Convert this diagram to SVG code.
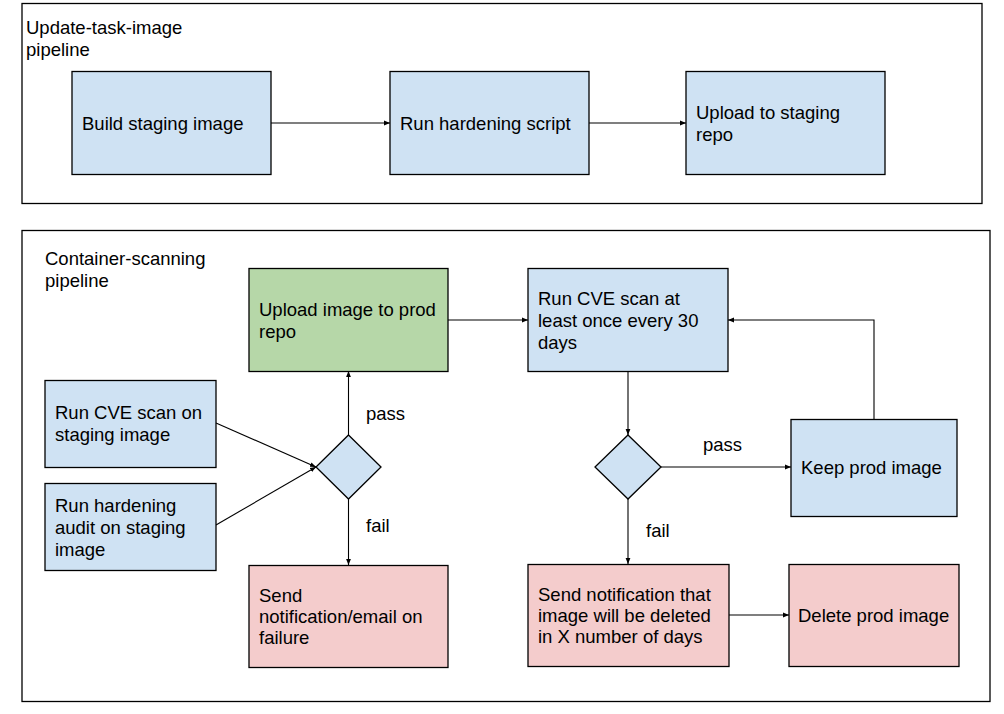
<svg xmlns="http://www.w3.org/2000/svg" width="1004" height="714" viewBox="0 0 1004 714">
<style>
text{font-family:"Liberation Sans",Arial,sans-serif;font-size:18.5px;fill:#000}
.c{fill:none;stroke:#000;stroke-width:1.3}
.b{fill:#cfe2f3;stroke:#000;stroke-width:1.3}
.g{fill:#b6d7a8;stroke:#000;stroke-width:1.3}
.r{fill:#f4cccc;stroke:#000;stroke-width:1.3}
.e{fill:none;stroke:#000;stroke-width:1.1;marker-end:url(#a)}
</style>
<defs>
<marker id="a" viewBox="0 0 10 10" refX="10" refY="5" markerWidth="6" markerHeight="6" markerUnits="userSpaceOnUse" orient="auto"><path d="M0,1 L10,5 L0,9 z" fill="#000"/></marker>
</defs>
<rect width="1004" height="714" fill="#fff"/>
<g id="container-top"><rect class="c" x="22" y="3.5" width="960" height="200"/><text x="26" y="34">Update-task-image</text><text x="26" y="56">pipeline</text></g>
<g id="container-bottom"><rect class="c" x="22" y="230.5" width="968" height="471"/><text x="45" y="265">Container-scanning</text><text x="45" y="287">pipeline</text></g>
<g id="connectors">
<path class="e" d="M271,123 H390"/>
<path class="e" d="M589,123 H686"/>
<path class="e" d="M216,423 L316,467"/>
<path class="e" d="M216,525 L316,467"/>
<path class="e" d="M348.5,435 V371"/>
<path class="e" d="M348.5,499 V565"/>
<path class="e" d="M448,320 H528"/>
<path class="e" d="M628,371 V435"/>
<path class="e" d="M661,467 H791"/>
<path class="e" d="M874,419 V320 H728"/>
<path class="e" d="M628,499 V564"/>
<path class="e" d="M729,615 H789"/>
<text x="366" y="420">pass</text>
<text x="366" y="532">fail</text>
<text x="703" y="451">pass</text>
<text x="646" y="537">fail</text>
</g>
<g id="build"><rect class="b" x="72" y="71.5" width="199" height="103"/><text x="82" y="130">Build staging image</text></g>
<g id="harden"><rect class="b" x="390" y="71.5" width="199" height="103"/><text x="400" y="130">Run hardening script</text></g>
<g id="upload-staging"><rect class="b" x="686" y="71.5" width="199" height="103"/><text x="696" y="119">Upload to staging</text><text x="696" y="141">repo</text></g>
<g id="upload-prod"><rect class="g" x="249" y="268.5" width="199" height="103"/><text x="259" y="316">Upload image to prod</text><text x="259" y="338">repo</text></g>
<g id="cve-30"><rect class="b" x="528" y="268.5" width="200" height="103"/><text x="538" y="305">Run CVE scan at</text><text x="538" y="327">least once every 30</text><text x="538" y="349">days</text></g>
<g id="cve-staging"><rect class="b" x="45" y="380.5" width="171" height="87"/><text x="55" y="419">Run CVE scan on</text><text x="55" y="441">staging image</text></g>
<g id="audit"><rect class="b" x="45" y="483.5" width="171" height="87"/><text x="55" y="512">Run hardening</text><text x="55" y="534">audit on staging</text><text x="55" y="556">image</text></g>
<g id="decision-1"><path class="b" d="M348.5,435 L381,467 L348.5,499 L316,467 Z"/></g>
<g id="decision-2"><path class="b" d="M628,435 L661,467 L628,499 L595,467 Z"/></g>
<g id="keep"><rect class="b" x="791" y="419.5" width="166" height="97"/><text x="801" y="474">Keep prod image</text></g>
<g id="notify-fail"><rect class="r" x="249" y="565.5" width="199" height="102"/><text x="259" y="602">Send</text><text x="259" y="623">notification/email on</text><text x="259" y="644">failure</text></g>
<g id="notify-delete"><rect class="r" x="528" y="564.5" width="201" height="102"/><text x="538" y="601">Send notification that</text><text x="538" y="622">image will be deleted</text><text x="538" y="643">in X number of days</text></g>
<g id="delete"><rect class="r" x="789" y="564.5" width="170" height="102"/><text x="798" y="622">Delete prod image</text></g>
</svg>
